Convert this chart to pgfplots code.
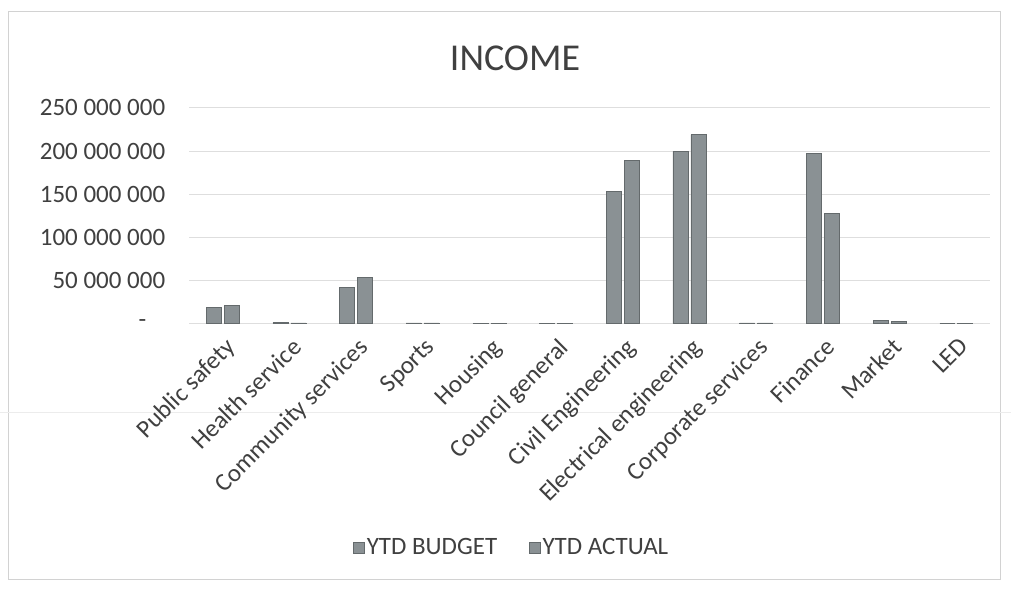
\documentclass[border=0pt]{standalone}
\usepackage{pgfplots}
\pgfplotsset{compat=1.18}
\usepackage{fontspec}
\setmainfont{Carlito}
\definecolor{barc}{RGB}{138,145,148}
\definecolor{bard}{RGB}{100,106,108}
\definecolor{txt}{RGB}{64,64,64}
\definecolor{gridc}{RGB}{222,222,222}
\begin{document}
\begin{tikzpicture}[x=1pt,y=1pt]
\fill[white] (0,0) rectangle (1011,590);
\draw[gray!35, line width=1pt] (8,10) rectangle (1001,578);
\draw[gray!15, line width=1pt] (0,177) -- (1011,177);
\node[text=txt, font=\fontsize{38}{44}\selectfont] at (515,532) {INCOME};
\begin{axis}[
  at={(189pt,266pt)}, anchor=south west,
  scale only axis, width=801pt, height=216pt,
  xmin=-0.5, xmax=11.5, ymin=0, ymax=250e6,
  scaled y ticks=false,
  ybar=3pt, bar width=15pt,
  axis line style={draw=none},
  major tick length=0pt,
  ymajorgrids, grid style={gridc, line width=1pt},
  ytick={50e6,100e6,150e6,200e6,250e6},
  yticklabels={50 000 000, 100 000 000, 150 000 000, 200 000 000, 250 000 000},
  extra y ticks={0},
  extra y tick labels={-},
  extra y tick style={grid style={gridc, line width=1pt}, yticklabel style={xshift=-19pt}},
  xtick={0,...,11},
  xticklabels={Public safety, Health service, Community services, Sports, Housing, Council general, Civil Engineering, Electrical engineering, Corporate services, Finance, Market, LED},
  ticklabel style={font=\fontsize{25}{30}\selectfont, text=txt},
  xticklabel style={rotate=45, anchor=north east, inner sep=0pt, yshift=-10pt, xshift=-8pt},
  yticklabel style={inner sep=0pt, xshift=-24pt},
  legend style={draw=none, fill=none, legend columns=2, font=\fontsize{25}{30}\selectfont, text=txt,
    at={(0.403,-1.037)}, anchor=center,
    /tikz/every even column/.append style={column sep=30pt}},
  legend image code/.code={\fill[barc, draw=bard] (0pt,-5.5pt) rectangle (11pt,5.5pt);},
]
\addplot[fill=barc, draw=bard] coordinates {
 (0,19e6) (1,1.2e6) (2,42e6) (3,0.8e6) (4,0.5e6) (5,0.6e6)
 (6,153e6) (7,200e6) (8,1e6) (9,197e6) (10,3.5e6) (11,0.5e6)};
\addplot[fill=barc, draw=bard] coordinates {
 (0,21e6) (1,1e6) (2,54e6) (3,0.8e6) (4,0.5e6) (5,0.6e6)
 (6,189e6) (7,219e6) (8,1e6) (9,128e6) (10,3e6) (11,0.5e6)};
\legend{YTD BUDGET, YTD ACTUAL}
\end{axis}
\end{tikzpicture}
\end{document}
